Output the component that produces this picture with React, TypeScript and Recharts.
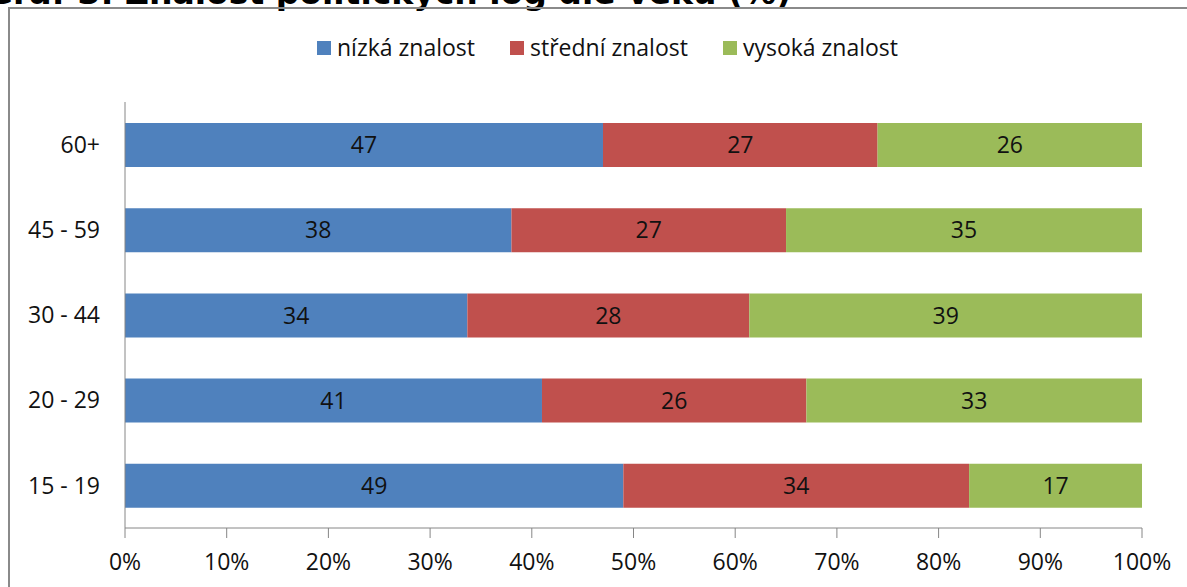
import React from "react";
import {
  Bar,
  BarChart,
  LabelList,
  XAxis,
  YAxis,
} from "recharts";

// age groups, top to bottom as in the picture
const ageGroups = ["60+", "45 - 59", "30 - 44", "20 - 29", "15 - 19"];
const lowKnowledge = [47, 38, 34, 41, 49];
const midKnowledge = [27, 27, 28, 26, 34];
const highKnowledge = [26, 35, 39, 33, 17];
const percentTicks = [0, 0.1, 0.2, 0.3, 0.4, 0.5, 0.6, 0.7, 0.8, 0.9, 1];

const seriesNames = ["nízká znalost", "střední znalost", "vysoká znalost"];
const seriesColors = ["#4f81bd", "#c0504d", "#9bbb59"];

const chartData = ageGroups.map((name, i) => ({
  name,
  low: lowKnowledge[i],
  mid: midKnowledge[i],
  high: highKnowledge[i],
}));

const FONT = "'Open Sans', sans-serif";
const AXIS_GREY = "#868686";
const TEXT = "#111";

function ChartLegend() {
  return (
    <div
      style={{
        position: "absolute",
        top: 32,
        left: 317,
        display: "flex",
        gap: 35,
        fontFamily: FONT,
        fontSize: 23,
        lineHeight: "31px",
        color: TEXT,
        whiteSpace: "nowrap",
      }}
    >
      {seriesNames.map((label, i) => (
        <div key={label} style={{ display: "flex", alignItems: "center" }}>
          <span
            style={{
              width: 14,
              height: 14,
              background: seriesColors[i],
              marginRight: 6,
              display: "inline-block",
            }}
          />
          <span>{label}</span>
        </div>
      ))}
    </div>
  );
}

export default function App() {
  const labelProps = { fill: TEXT, fontFamily: FONT, fontSize: 23 };
  return (
    <div
      style={{
        position: "absolute",
        left: 0,
        top: 0,
        width: 1187,
        height: 587,
        overflow: "hidden",
        background: "#fff",
      }}
    >
      {/* title, mostly cropped off at the top */}
      <svg
        width={1187}
        height={20}
        style={{ position: "absolute", left: 0, top: 0 }}
      >
        <text
          x={-14}
          y={4}
          fontFamily="'DejaVu Sans', sans-serif"
          fontWeight="bold"
          fontSize={33}
          fill="#000"
        >
          Graf 3: Znalost politických log dle věku (%)
        </text>
      </svg>

      {/* chart frame */}
      <div
        style={{
          position: "absolute",
          left: 8,
          top: 7,
          width: 1300,
          height: 700,
          border: "2px solid #8a8a8a",
        }}
      />

      <ChartLegend />

      <div style={{ position: "absolute", left: 0, top: 0 }}>
        <BarChart
          width={1187}
          height={587}
          data={chartData}
          layout="vertical"
          stackOffset="expand"
          barSize={44}
          margin={{ top: 102, right: 45, bottom: 0, left: 0 }}
        >
          <XAxis
            type="number"
            domain={[0, 1]}
            ticks={percentTicks}
            tickFormatter={(v) => `${Math.round(v * 100)}%`}
            height={59}
            stroke={AXIS_GREY}
            tickSize={10}
            tickMargin={16}
            tick={labelProps}
          />
          <YAxis
            type="category"
            dataKey="name"
            width={125}
            stroke={AXIS_GREY}
            tickLine={false}
            tickSize={0}
            tickMargin={25}
            tick={labelProps}
          />
          <Bar dataKey="low" stackId="a" fill={seriesColors[0]} isAnimationActive={false}>
            <LabelList dataKey="low" position="center" {...labelProps} />
          </Bar>
          <Bar dataKey="mid" stackId="a" fill={seriesColors[1]} isAnimationActive={false}>
            <LabelList dataKey="mid" position="center" {...labelProps} />
          </Bar>
          <Bar dataKey="high" stackId="a" fill={seriesColors[2]} isAnimationActive={false}>
            <LabelList dataKey="high" position="center" {...labelProps} />
          </Bar>
        </BarChart>
      </div>
    </div>
  );
}
